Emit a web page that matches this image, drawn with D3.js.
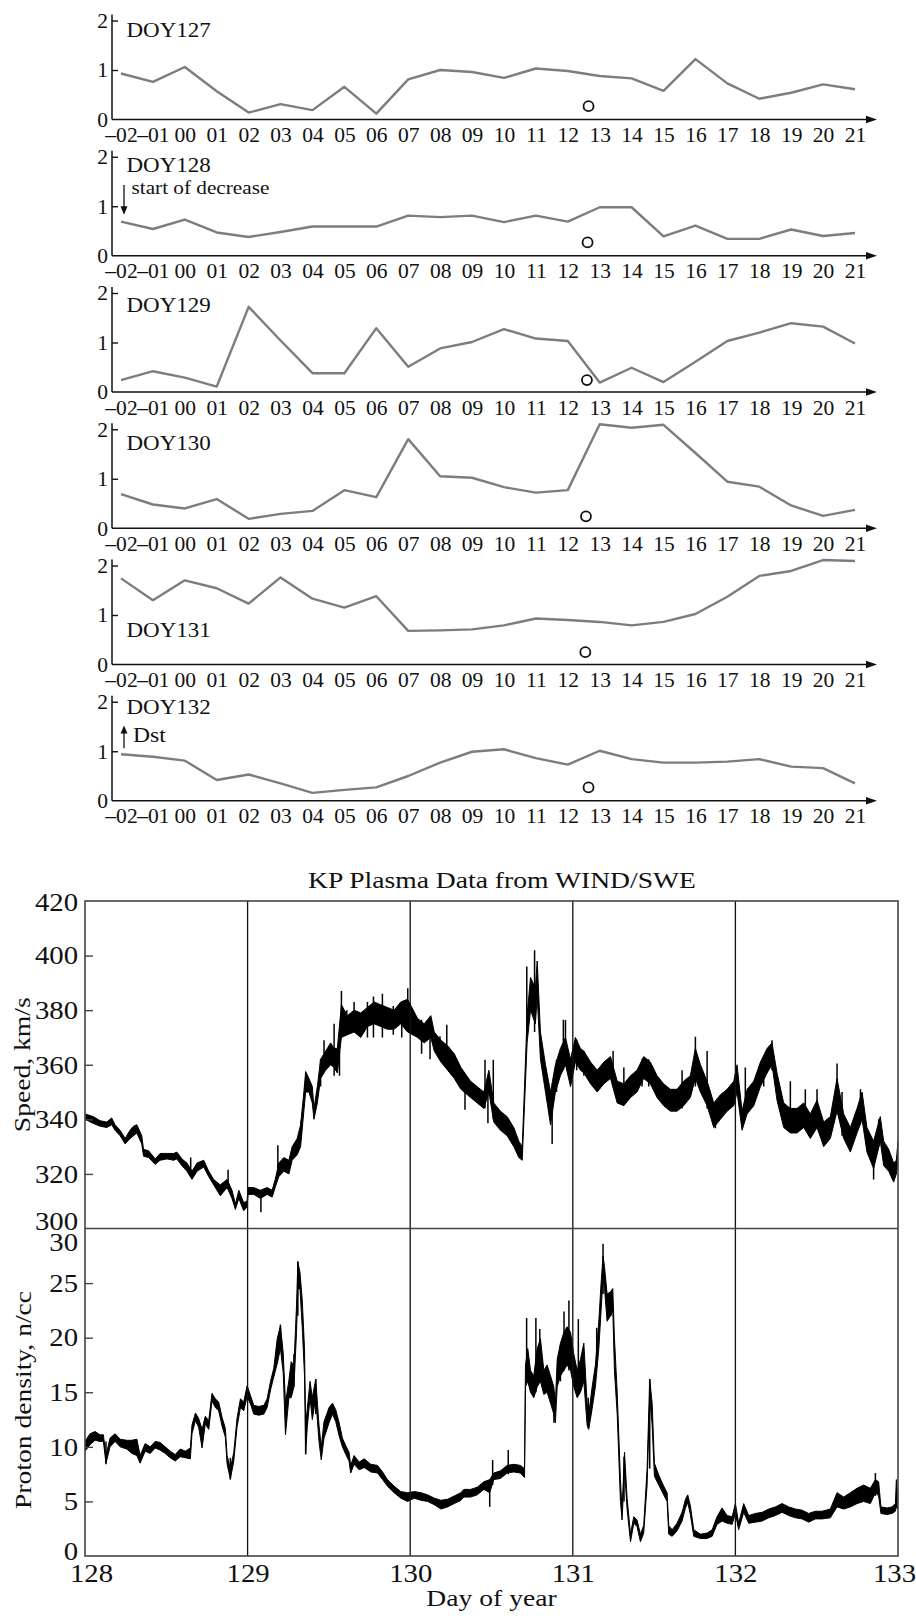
<!DOCTYPE html>
<html>
<head>
<meta charset="utf-8">
<script src="https://cdn.jsdelivr.net/npm/d3@7"></script>
<style>
body { margin: 0; background: #fff; }
text { font-family: "Liberation Serif", "Times New Roman", serif; fill: #111; }
</style>
</head>
<body>
<svg id="fig"></svg>
<script>
const W = 916, H = 1616;

// ---- top: Dst-like hourly curves, one panel per day ----
const hours = [-2,-1,0,1,2,3,4,5,6,7,8,9,10,11,12,13,14,15,16,17,18,19,20,21];
const hourLabels = ["\u201302","\u201301","00","01","02","03","04","05","06","07","08","09","10","11","12","13","14","15","16","17","18","19","20","21"];
const doyNames = ["DOY127","DOY128","DOY129","DOY130","DOY131","DOY132"];
const doy127 = [0.93,0.76,1.06,0.57,0.14,0.31,0.19,0.66,0.12,0.81,1.00,0.96,0.84,1.03,0.98,0.88,0.83,0.58,1.22,0.73,0.42,0.54,0.71,0.61];
const doy128 = [0.69,0.54,0.73,0.47,0.38,0.48,0.59,0.59,0.59,0.81,0.78,0.81,0.68,0.81,0.69,0.98,0.98,0.39,0.61,0.34,0.34,0.53,0.40,0.46];
const doy129 = [0.24,0.42,0.29,0.11,1.72,1.04,0.38,0.38,1.29,0.51,0.88,1.01,1.27,1.08,1.03,0.19,0.49,0.20,0.61,1.03,1.20,1.39,1.32,0.98];
const doy130 = [0.69,0.48,0.40,0.59,0.19,0.29,0.35,0.77,0.63,1.80,1.05,1.02,0.83,0.72,0.77,2.10,2.03,2.09,1.52,0.94,0.84,0.46,0.25,0.37];
const doy131 = [1.74,1.30,1.70,1.54,1.23,1.76,1.33,1.15,1.38,0.68,0.69,0.71,0.79,0.93,0.90,0.86,0.79,0.86,1.02,1.37,1.79,1.89,2.11,2.09];
const doy132 = [0.94,0.89,0.81,0.42,0.53,0.35,0.16,0.22,0.27,0.50,0.77,0.99,1.04,0.86,0.73,1.01,0.84,0.77,0.77,0.79,0.84,0.69,0.66,0.35];
const dstSeries = [doy127, doy128, doy129, doy130, doy131, doy132];
const circleHour = [12.65, 12.62, 12.60, 12.57, 12.55, 12.65];
const circleValue = [0.27, 0.27, 0.24, 0.24, 0.25, 0.27];

// ---- bottom: KP plasma data, [day, low, high] envelope ----
const speedTicks = [300,320,340,360,380,400,420];
const densityTicks = [0,5,10,15,20,25,30];
const dayTicks = [128,129,130,131,132,133];

const speedBand = [[128.000,340,342],[128.051,338.5,341],[128.092,337.5,339.5],[128.134,337,339],[128.164,338,340.5],[128.185,336,338],[128.216,334,336],[128.247,331,333],[128.277,333,336],[128.298,334,337.5],[128.319,335,338],[128.349,331,334],[128.360,326.5,329],[128.391,326,328.5],[128.432,323.5,325.5],[128.462,325,327.5],[128.504,325.5,327.5],[128.545,325,327.5],[128.565,325.5,328],[128.596,323,325.5],[128.627,321,324],[128.658,318,321],[128.689,321,324],[128.730,322.5,325],[128.761,319,321],[128.791,316,318],[128.832,312,316],[128.874,315,318],[128.904,311,314],[128.925,307,309],[128.946,311,314],[128.976,306.5,309.5],[128.997,308,310],[129.003,312.5,315],[129.038,312.5,315],[129.079,311,314],[129.120,312.5,315],[129.151,311.5,314],[129.172,315.5,318.5],[129.192,319,324],[129.223,321,326],[129.254,320,325],[129.274,325,330],[129.305,327,333],[129.326,330,338],[129.346,343,350],[129.357,350,357.5],[129.377,350,355],[129.398,346,352],[129.408,340,344],[129.429,346,352],[129.449,355,362],[129.480,358,365],[129.511,360,368],[129.531,359,366],[129.552,357,366],[129.577,370,382],[129.614,371,378],[129.655,372,380],[129.696,370,379],[129.737,374,381],[129.778,375,383],[129.819,374,382],[129.860,373,381],[129.901,373,380],[129.942,375,383],[129.984,372,384],[130.045,370,377],[130.086,368,375],[130.127,370,378],[130.148,365,372],[130.189,361,369],[130.230,358,367],[130.271,355,364],[130.312,351,359],[130.371,348,354],[130.412,346,352],[130.453,344,350],[130.484,350,358],[130.514,339,346],[130.555,336,343],[130.596,334,341],[130.637,330,337],[130.668,326,332],[130.689,325,330],[130.703,345,352],[130.719,368,378],[130.740,380,392],[130.770,375,388],[130.781,385,398],[130.801,362,372],[130.832,350,360],[130.863,338,350],[130.893,350,360],[130.924,356,366],[130.955,360,370],[130.986,352,362],[131.016,361,370],[131.047,358,366],[131.068,357,365],[131.109,353,361],[131.150,350,358],[131.191,353,361],[131.232,355,363],[131.273,346,354],[131.314,345,353],[131.355,348,356],[131.395,350,358],[131.436,355,363],[131.477,353,361],[131.518,348,356],[131.559,345,353],[131.600,343,351],[131.641,343,351],[131.682,345,354],[131.723,348,356],[131.754,355,366],[131.785,350,360],[131.826,345,354],[131.867,337,346],[131.908,340,349],[131.949,343,351],[131.990,345,354],[132.010,350,360],[132.041,336,343],[132.072,342,351],[132.113,345,354],[132.154,352,361],[132.195,357,366],[132.225,360,368],[132.256,347,357],[132.297,337,346],[132.338,335,344],[132.379,335,344],[132.420,337,346],[132.461,333,342],[132.502,337,347],[132.543,330,339],[132.584,333,341],[132.625,343,355],[132.666,333,342],[132.707,328,337],[132.748,335,344],[132.779,340,350],[132.809,328,337],[132.850,322,332],[132.891,332,341],[132.912,323,332],[132.943,321,329],[132.973,317,324],[132.990,320,325],[133.000,325,332]];
const speedSpikes = [[128.650,319,326],[128.880,315,321.5],[129.082,306,313],[129.186,320,330.5],[129.330,333,339.7],[129.449,352,362],[129.470,360,369],[129.532,356,375],[129.565,356,365],[129.577,370,387],[129.610,372,380],[129.655,374,383],[129.737,370,383],[129.774,370,385],[129.829,370,386],[129.896,371,381.5],[129.948,370,383],[129.985,372,388],[130.070,364,376.5],[130.122,362,377.7],[130.183,362,370.4],[130.225,360,374.7],[130.337,343.5,355],[130.460,344,361.8],[130.478,338.6,350],[130.511,340,361.8],[130.717,370,396],[130.765,372,402],[130.873,331,350],[130.900,350,361.8],[130.942,358,376.5],[130.955,362,376.4],[131.024,358,369.2],[131.068,356,365],[131.248,352,365],[131.314,346,359],[131.426,352,362],[131.467,352,362],[131.672,344,358],[131.754,352,370.3],[131.826,344,365],[131.877,336.7,346],[132.061,342,359],[132.174,352,361],[132.225,358,369],[132.338,336,354],[132.430,338,351],[132.502,338,351],[132.625,345,360.5],[132.656,334,350],[132.769,338,351],[132.850,318,330],[132.881,330,340]];

const densityBand = [[128.000,9.6,10.5],[128.031,10.2,11.2],[128.062,10.6,11.4],[128.092,10.5,11.1],[128.113,10.5,11.1],[128.129,8.5,9.2],[128.154,10.0,10.8],[128.185,10.5,11.2],[128.216,10.0,10.7],[128.257,9.8,10.6],[128.288,9.4,10.6],[128.319,9.2,10.7],[128.339,8.5,9.2],[128.370,9.6,10.3],[128.401,9.4,10.0],[128.432,9.9,10.5],[128.462,9.7,10.4],[128.493,9.4,10.0],[128.524,9.0,9.6],[128.555,8.7,9.3],[128.586,9.1,9.8],[128.617,9.0,9.6],[128.648,8.9,9.9],[128.658,11.2,12.0],[128.679,12.4,13.1],[128.699,11.8,12.6],[128.720,9.9,11.6],[128.740,12.1,12.8],[128.761,11.6,12.4],[128.781,14.2,14.9],[128.802,13.6,14.4],[128.822,13.3,14.1],[128.843,11.9,12.7],[128.863,10.9,11.7],[128.874,8.4,9.2],[128.894,7.05,8.0],[128.915,8.7,9.5],[128.935,11.8,12.6],[128.956,13.6,14.4],[128.976,13.3,14.1],[128.997,14.6,15.6],[129.018,13.9,14.7],[129.038,13.0,13.8],[129.069,12.9,13.7],[129.100,13.0,13.8],[129.120,13.6,14.4],[129.141,15.2,16.0],[129.161,16.4,17.2],[129.182,17.6,19.9],[129.202,19.0,21.1],[129.219,16.8,18.6],[129.233,11.1,14.0],[129.254,14.5,16.1],[129.268,14.5,17.8],[129.285,15.5,17.5],[129.301,20.5,23.0],[129.309,24.5,26.9],[129.322,24.5,26.0],[129.336,21.0,23.5],[129.350,16.5,19.0],[129.357,9.4,12.0],[129.367,11.8,13.5],[129.384,14.5,16.0],[129.398,12.5,14.5],[129.419,14.5,16.2],[129.439,10.5,12.0],[129.453,8.8,10.0],[129.470,10.8,12.3],[129.501,12.2,13.6],[129.522,13.0,14.0],[129.542,12.3,13.4],[129.563,11.0,12.2],[129.583,10.0,10.8],[129.604,9.3,10.1],[129.624,8.7,9.5],[129.634,7.6,8.3],[129.655,8.4,9.2],[129.686,7.9,8.6],[129.717,8.1,8.9],[129.758,7.7,8.4],[129.799,7.6,8.3],[129.830,7.0,7.7],[129.860,6.4,7.0],[129.901,5.8,6.4],[129.942,5.3,5.9],[129.984,5.0,5.8],[130.025,5.3,5.9],[130.066,5.1,5.8],[130.107,5.0,5.6],[130.148,4.7,5.3],[130.189,4.3,5.1],[130.230,4.5,5.2],[130.271,4.8,5.5],[130.312,5.1,5.8],[130.330,5.4,6.1],[130.371,5.4,6.1],[130.412,5.6,6.3],[130.453,6.1,6.8],[130.489,5.8,7.0],[130.514,7.0,7.6],[130.555,7.1,7.8],[130.596,7.6,8.3],[130.637,7.7,8.4],[130.678,7.6,8.3],[130.703,7.2,8.0],[130.709,15.5,17.5],[130.723,16.0,19.0],[130.740,15.0,17.0],[130.760,14.5,16.5],[130.781,15.5,19.0],[130.801,16.0,19.9],[130.822,14.8,17.0],[130.842,15.0,17.5],[130.863,14.0,16.5],[130.883,13.0,15.5],[130.893,12.2,14.0],[130.904,15.5,18.0],[130.924,16.5,19.5],[130.945,17.0,20.5],[130.965,17.5,21.0],[130.986,17.0,20.5],[131.006,15.5,18.5],[131.027,14.5,17.0],[131.047,15.0,18.0],[131.068,16.0,19.5],[131.088,12.0,14.0],[131.098,11.6,13.0],[131.119,13.5,15.5],[131.139,15.5,17.5],[131.160,19.0,21.5],[131.174,22.5,25.0],[131.186,25.5,27.5],[131.195,24.5,26.5],[131.211,21.5,24.0],[131.232,22.0,24.2],[131.246,22.5,24.5],[131.256,17.0,20.0],[131.273,13.0,15.0],[131.283,9.0,11.0],[131.293,5.0,7.0],[131.303,3.3,4.2],[131.318,8.0,9.5],[131.334,4.3,5.3],[131.355,1.3,2.0],[131.375,3.0,3.6],[131.395,2.7,3.3],[131.416,1.3,2.0],[131.436,2.1,2.8],[131.457,6.5,8.0],[131.473,14.5,16.2],[131.488,12.0,14.0],[131.502,7.3,8.5],[131.529,6.5,7.4],[131.559,5.6,6.4],[131.580,5.0,5.8],[131.590,2.0,2.8],[131.611,1.8,2.4],[131.641,2.3,3.0],[131.672,3.2,4.0],[131.693,4.4,5.2],[131.707,4.9,5.6],[131.723,3.8,4.6],[131.744,1.8,2.4],[131.785,1.6,2.0],[131.826,1.6,2.1],[131.857,1.8,2.4],[131.887,2.9,3.6],[131.918,3.2,4.4],[131.949,3.0,3.7],[131.980,2.9,3.6],[132.000,3.9,4.8],[132.020,2.4,3.0],[132.051,4.0,4.8],[132.082,3.0,3.7],[132.123,3.1,3.9],[132.164,3.2,4.0],[132.205,3.5,4.3],[132.246,3.7,4.5],[132.287,4.0,4.8],[132.328,3.7,4.5],[132.369,3.5,4.3],[132.410,3.4,4.2],[132.451,3.1,3.9],[132.492,3.4,4.1],[132.533,3.4,4.1],[132.584,3.5,4.3],[132.625,4.5,5.8],[132.666,4.3,5.4],[132.707,4.5,5.8],[132.748,4.8,6.2],[132.789,5.0,6.5],[132.830,4.8,6.2],[132.861,5.8,7.0],[132.881,5.5,6.8],[132.895,3.9,4.5],[132.932,3.8,4.4],[132.963,3.9,4.5],[132.984,4.1,4.8],[132.990,4.5,7.0],[133.000,4.3,5.0]];
const densitySpikes = [[128.129,8.4,10.5],[128.894,7.0,9.0],[129.202,19.0,21.2],[129.285,15.5,18.5],[129.309,22,27.0],[129.357,9.3,13],[129.419,13,16.2],[130.489,4.5,6.3],[130.507,6.5,8.8],[130.603,7.5,9.7],[130.716,16,21.8],[130.773,15,21.8],[130.797,16,20.8],[130.884,12.2,15],[130.924,16,19.2],[130.946,17,22.4],[130.976,17,23.4],[131.034,16,21.7],[131.095,11.7,14.5],[131.147,18,20.9],[131.186,24,28.6],[131.235,22,24.1],[131.315,5,9.1],[131.473,8,16.2],[132.861,5.5,7.6]];

const svg = d3.select("#fig").attr("width", W).attr("height", H);
svg.append("rect").attr("width", W).attr("height", H).attr("fill", "#fff");

// stretched serif text helper (the source face is wider than Times)
function label(g, x, y, txt, size, sx, anchor, rot) {
  return g.append("text")
    .attr("transform", `translate(${x},${y}) rotate(${rot || 0}) scale(${sx},1)`)
    .attr("text-anchor", anchor || "start")
    .attr("font-size", size)
    .text(txt);
}

// ---------- top panels ----------
const axisX0 = 112, firstBase = 119.5, panelStep = 136.25, unit = 49.5, arrowEnd = 877;
const hx = d3.scaleLinear().domain([-2, 21]).range([121, 855]);
const doyLift = [1.66, 1.70, 1.62, 1.58, 0.56, 1.76];

dstSeries.forEach((vals, i) => {
  const base = firstBase + i * panelStep;
  const y = d3.scaleLinear().domain([0, 2]).range([base, base - 2 * unit]);
  const g = svg.append("g");

  const ay = g.append("g").attr("transform", `translate(${axisX0},0)`)
    .call(d3.axisLeft(y).tickValues([0, 1, 2]).tickSizeInner(-6).tickSizeOuter(0).tickPadding(0).tickFormat(d3.format("d")));
  ay.attr("font-family", null).attr("font-size", null);
  ay.select(".domain").remove();
  ay.selectAll(".tick line").attr("stroke", "#111").attr("stroke-width", 1.4);
  ay.selectAll(".tick").filter(d => d === 0).select("line").remove();
  ay.selectAll(".tick text").attr("x", null).attr("dy", "0.34em")
    .attr("transform", "translate(-4,0) scale(1.05,1)").attr("font-size", 20.5);

  g.append("line").attr("x1", axisX0).attr("x2", axisX0)
    .attr("y1", base).attr("y2", y(2) - 6).attr("stroke", "#111").attr("stroke-width", 1.5);

  const ax = g.append("g").attr("transform", `translate(0,${base})`)
    .call(d3.axisBottom(hx).tickValues(hours).tickSize(0).tickPadding(8).tickFormat((d, j) => hourLabels[j]));
  ax.attr("font-family", null).attr("font-size", null);
  ax.select(".domain").remove();
  ax.selectAll(".tick text").attr("font-size", 20.5).attr("transform", "scale(1.05,1)");

  g.append("line").attr("x1", axisX0).attr("x2", arrowEnd - 8)
    .attr("y1", base).attr("y2", base).attr("stroke", "#111").attr("stroke-width", 1.5);
  g.append("path").attr("d", `M${arrowEnd - 11},${base - 3.8}L${arrowEnd},${base}L${arrowEnd - 11},${base + 3.8}Z`).attr("fill", "#111");

  g.append("path").datum(vals)
    .attr("d", d3.line().x((d, j) => hx(hours[j])).y(d => y(d)))
    .attr("fill", "none").attr("stroke", "#7d7d7d").attr("stroke-width", 2.4).attr("stroke-linejoin", "round");

  g.append("circle").attr("cx", hx(circleHour[i])).attr("cy", y(circleValue[i])).attr("r", 5)
    .attr("fill", "none").attr("stroke", "#111").attr("stroke-width", 1.8);

  label(g, 126.5, y(doyLift[i]), doyNames[i], 20, 1.15);

  if (i === 1) {
    const ax0 = hx(-2) + 3;
    g.append("line").attr("x1", ax0).attr("x2", ax0).attr("y1", y(1.43)).attr("y2", y(0.97)).attr("stroke", "#111").attr("stroke-width", 1.3);
    g.append("path").attr("d", `M${ax0 - 3.5},${y(1.0)}L${ax0},${y(0.83)}L${ax0 + 3.5},${y(1.0)}Z`).attr("fill", "#111");
    label(g, 131.5, y(1.25), "start of decrease", 18, 1.18);
  }
  if (i === 5) {
    const ax0 = hx(-2) + 3;
    g.append("line").attr("x1", ax0).attr("x2", ax0).attr("y1", y(1.06)).attr("y2", y(1.4)).attr("stroke", "#111").attr("stroke-width", 1.3);
    g.append("path").attr("d", `M${ax0 - 3.5},${y(1.36)}L${ax0},${y(1.52)}L${ax0 + 3.5},${y(1.36)}Z`).attr("fill", "#111");
    label(g, 133, y(1.19), "Dst", 20, 1.18);
  }
});

// ---------- bottom: plasma data ----------
const pLeft = 85, pRight = 898, pTop = 901, pMid = 1228.5, pBottom = 1556;
const xb = d3.scaleLinear().domain([128, 133]).range([pLeft, pRight]);
const ySpeed = d3.scaleLinear().domain([300, 420]).range([pMid, pTop]);
const yDens = d3.scaleLinear().domain([0, 30]).range([pBottom, pMid]);

const defs = svg.append("defs");
defs.append("clipPath").attr("id", "clipS").append("rect").attr("x", pLeft).attr("y", pTop).attr("width", pRight - pLeft).attr("height", pMid - pTop);
defs.append("clipPath").attr("id", "clipD").append("rect").attr("x", pLeft).attr("y", pMid).attr("width", pRight - pLeft).attr("height", pBottom - pMid);

function drawTrace(band, spikes, y, clip) {
  const g = svg.append("g").attr("clip-path", `url(#${clip})`);
  g.append("path").datum(band)
    .attr("d", d3.area().x(d => xb(d[0])).y0(d => y(d[1])).y1(d => y(d[2])))
    .attr("fill", "#000").attr("stroke", "#000").attr("stroke-width", 1.0).attr("stroke-linejoin", "miter");
  g.selectAll("line.spike").data(spikes).join("line").attr("class", "spike")
    .attr("x1", d => xb(d[0])).attr("x2", d => xb(d[0]))
    .attr("y1", d => y(d[1])).attr("y2", d => y(d[2]))
    .attr("stroke", "#000").attr("stroke-width", 1.5);
}
drawTrace(speedBand, speedSpikes, ySpeed, "clipS");
drawTrace(densityBand, densitySpikes, yDens, "clipD");

// day gridlines
svg.selectAll("line.grid").data(dayTicks.slice(1, -1)).join("line").attr("class", "grid")
  .attr("x1", d => xb(d)).attr("x2", d => xb(d)).attr("y1", pTop).attr("y2", pBottom)
  .attr("stroke", "#111").attr("stroke-width", 1.3);

// frame and divider
svg.append("rect").attr("x", pLeft).attr("y", pTop).attr("width", pRight - pLeft).attr("height", pBottom - pTop)
  .attr("fill", "none").attr("stroke", "#444").attr("stroke-width", 1.6);
svg.append("line").attr("x1", pLeft).attr("x2", pRight).attr("y1", pMid).attr("y2", pMid)
  .attr("stroke", "#444").attr("stroke-width", 1.6);

function leftAxis(scale, ticks, shiftFirst, shiftLast) {
  const a = svg.append("g").attr("transform", `translate(${pLeft},0)`)
    .call(d3.axisLeft(scale).tickValues(ticks).tickSizeInner(-8).tickSizeOuter(0).tickPadding(0));
  a.attr("font-family", null).attr("font-size", null);
  a.select(".domain").remove();
  a.selectAll(".tick line").attr("stroke", "#444").attr("stroke-width", 1.4);
  a.selectAll(".tick").filter((d, j) => j === 0 || j === ticks.length - 1).select("line").remove();
  a.selectAll(".tick text").attr("x", null).attr("font-size", 25)
    .attr("dy", (d, j) => j === 0 ? shiftFirst : (j === ticks.length - 1 ? shiftLast : "0.33em"))
    .attr("transform", "translate(-7,0) scale(1.15,1)");
}
leftAxis(ySpeed, speedTicks, "0.02em", "0.37em");
leftAxis(yDens, densityTicks, "0.13em", "0.86em");

const bx = svg.append("g").attr("transform", `translate(0,${pBottom})`)
  .call(d3.axisBottom(xb).tickValues(dayTicks).tickSize(0).tickPadding(8).tickFormat(d3.format("d")));
bx.attr("font-family", null).attr("font-size", null);
bx.select(".domain").remove();
bx.selectAll(".tick text").attr("font-size", 25)
  .attr("transform", (d, j) => j === 0 ? "translate(6,0) scale(1.15,1)" : (j === dayTicks.length - 1 ? "translate(-4,0) scale(1.15,1)" : "scale(1.15,1)"));

label(svg, 502, 888, "KP Plasma Data from WIND/SWE", 24, 1.15, "middle");
label(svg, 491.5, 1606, "Day of year", 24, 1.15, "middle");
label(svg, 30, (pTop + pMid) / 2, "Speed, km/s", 24, 1.15, "middle", -90);
label(svg, 31, 1400, "Proton density, n/cc", 24, 1.15, "middle", -90);
</script>
</body>
</html>
